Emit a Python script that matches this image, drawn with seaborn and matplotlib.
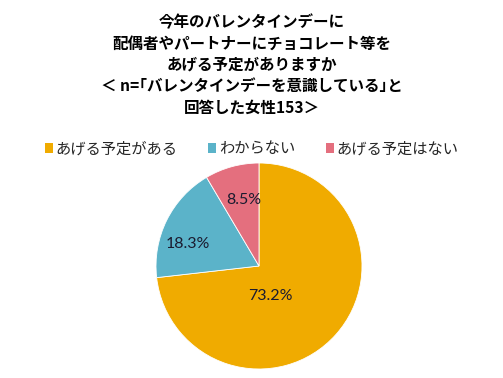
import matplotlib
matplotlib.use("Agg")
import matplotlib.pyplot as plt
import seaborn as sns
from matplotlib.patches import Patch

sns.set_style("white")
plt.rcParams["font.family"] = ["Noto Sans CJK JP", "DejaVu Sans"]

# =============================
# DATA
# =============================
labels = ["あげる予定がある", "わからない", "あげる予定はない"]
values = [73.2, 18.3, 8.5]
colors = ["#F0AB00", "#5BB3C9", "#E46F7E"]

title = ("今年のバレンタインデーに\n配偶者やパートナーにチョコレート等を\n"
         "あげる予定がありますか\n＜ n=｢バレンタインデーを意識している｣と\n回答した女性153＞")

# =============================
# FIGURE
# =============================
W, H = 503, 378
fig = plt.figure(figsize=(W / 100, H / 100), dpi=100)
fig.patch.set_facecolor("white")

fig.text(0.5, 1 - 14 / H, title, ha="center", va="top", fontsize=11.2,
         fontweight="bold", linespacing=1.42, color="black")

# pie axes
cx, cy, r = 259, 266, 103
ax = fig.add_axes([(cx - r) / W, (H - cy - r) / H, 2 * r / W, 2 * r / H])
wedges, texts, autotexts = ax.pie(
    values, colors=colors, startangle=90, counterclock=False,
    autopct="%.1f%%", pctdistance=0.62,
    wedgeprops=dict(linewidth=0.6, edgecolor="white"),
    textprops=dict(fontsize=11.5, color="#1b1b2f", family="Lato"))
ax.set_xlim(-1, 1)
ax.set_ylim(-1, 1)
ax.set_aspect("equal")

# nudge labels to Excel-like positions
autotexts[0].set_position((0.11, -0.29))
autotexts[1].set_position((-0.69, 0.21))
autotexts[2].set_position((-0.15, 0.64))

# legend
handles = [Patch(facecolor=c, edgecolor="none") for c in colors]
fig.legend(handles, labels, loc="center", bbox_to_anchor=(0.5, 1 - 149 / H),
           ncol=3, frameon=False, fontsize=11, handlelength=0.55,
           handleheight=0.55, handletextpad=0.15, columnspacing=2.0)

fig.savefig("out.png", dpi=100, facecolor="white")
